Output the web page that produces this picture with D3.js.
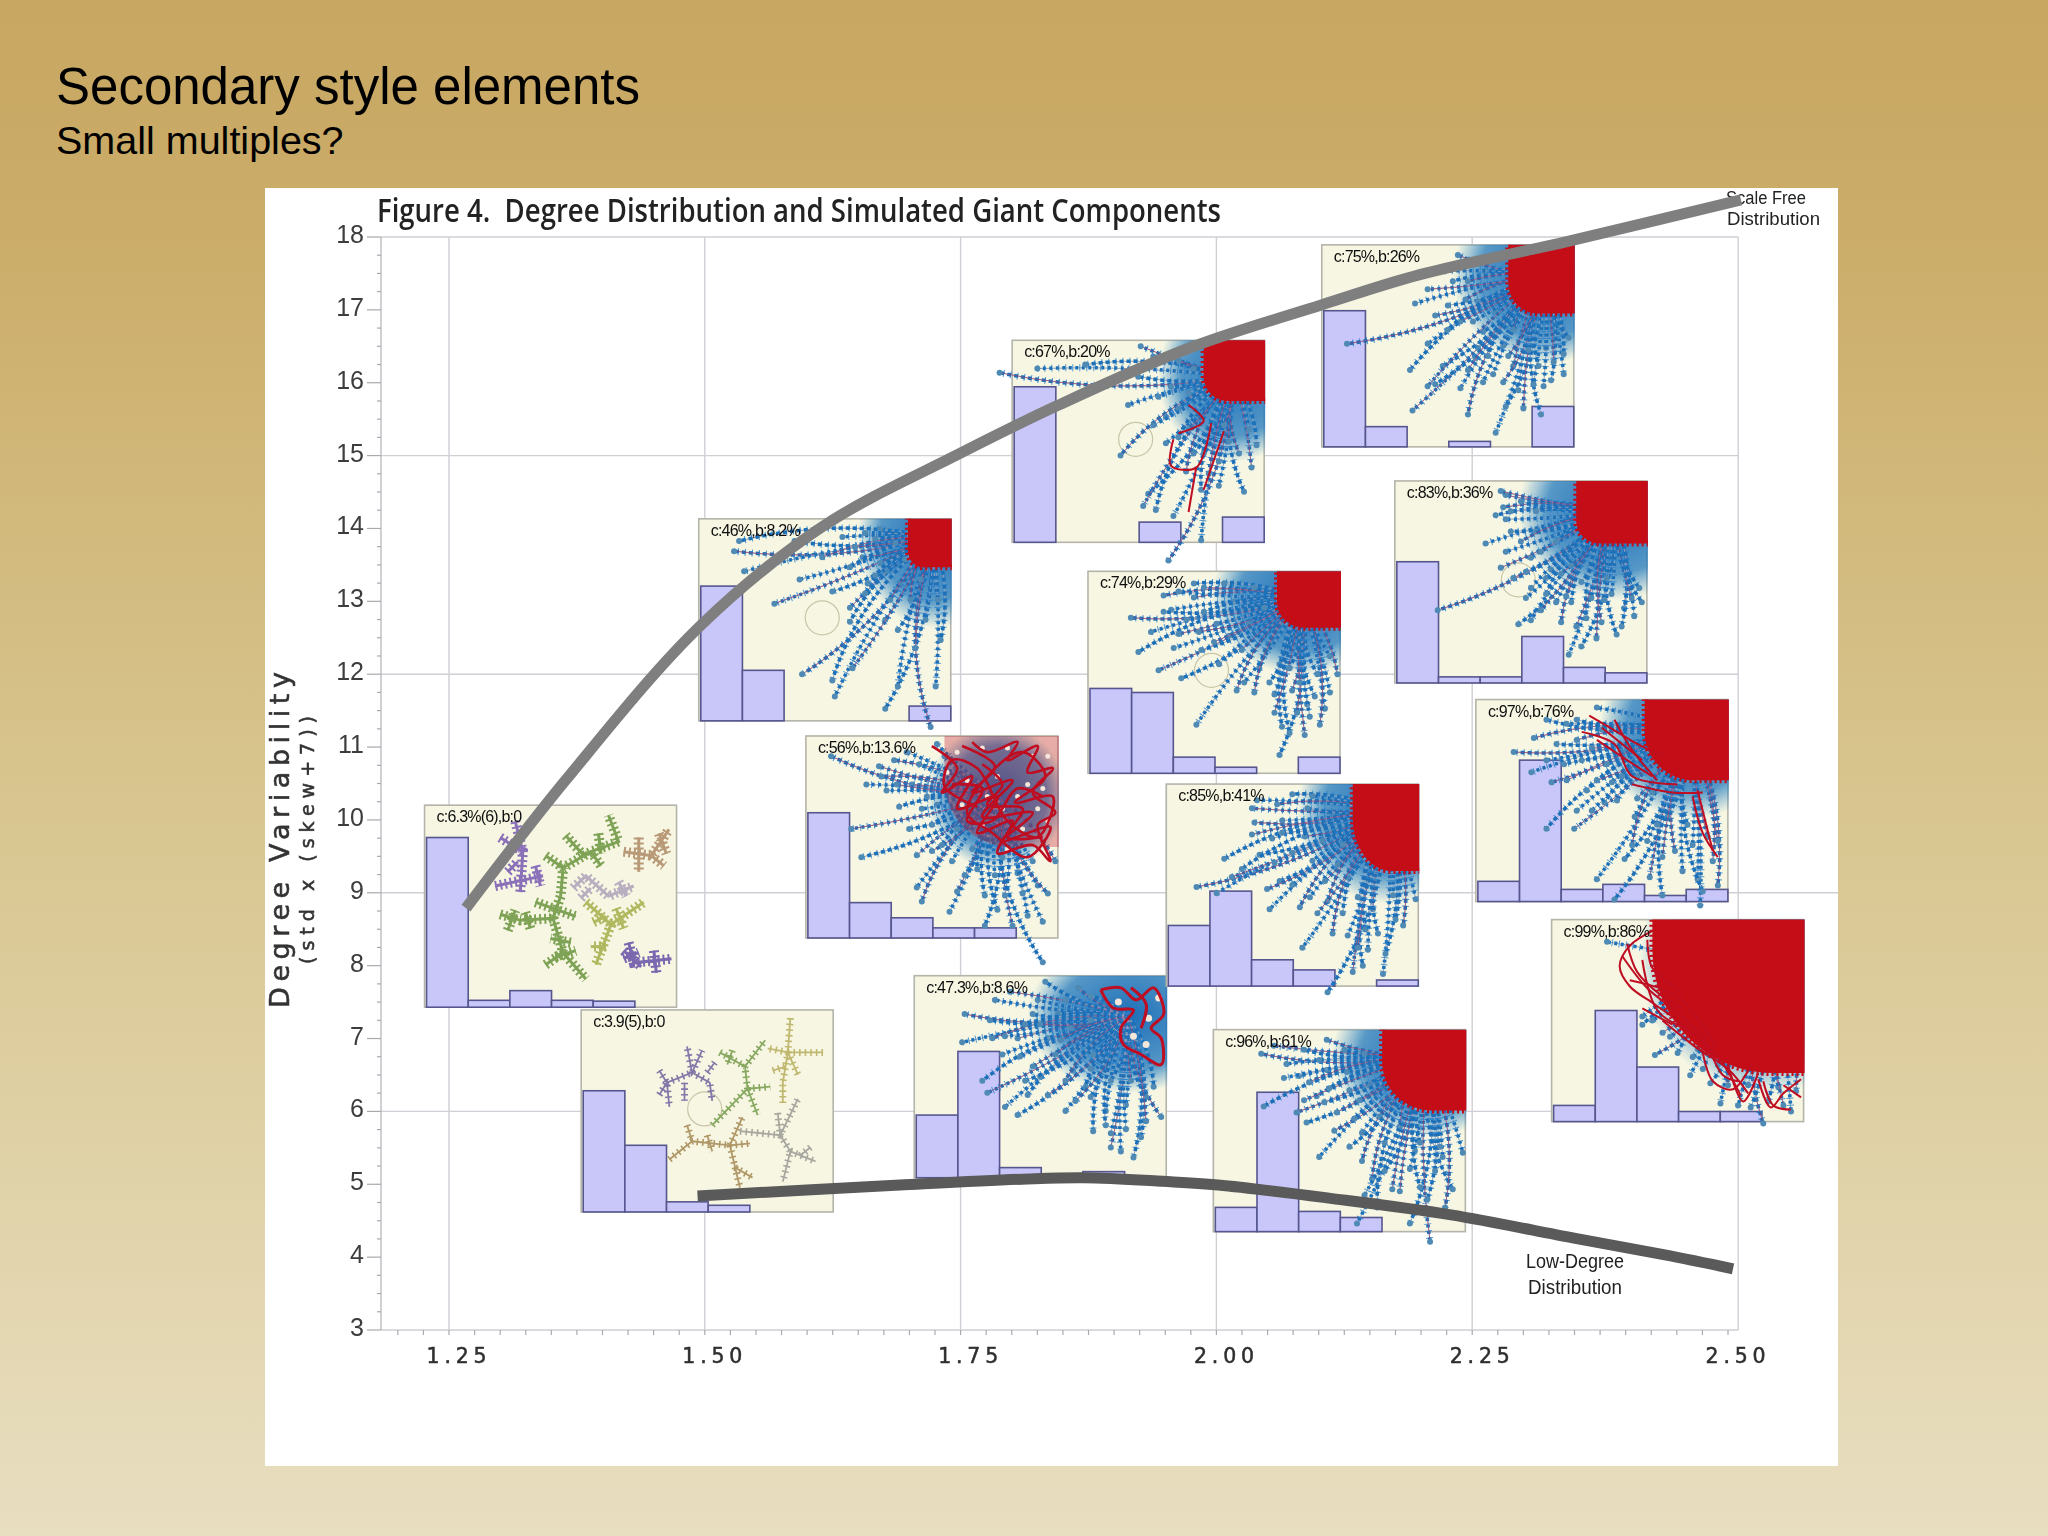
<!DOCTYPE html>
<html>
<head>
<meta charset="utf-8">
<script src="https://cdn.jsdelivr.net/npm/d3@7"></script>
<style>
html, body { margin: 0; padding: 0; background: #fff; }
svg { display: block; }
</style>
</head>
<body>
<div id="chart"></div>
<script>
var W = 2048, H = 1536;

var xTicks = [1.25, 1.5, 1.75, 2, 2.25, 2.5];
var yTicks = [3, 4, 5, 6, 7, 8, 9, 10, 11, 12, 13, 14, 15, 16, 17, 18];
var gridX = [1.25, 1.5, 1.75, 2, 2.25, 2.51];
var gridY = [3, 6, 9, 12, 15, 18];

// small multiples, lower left corner of each in axis units
var insetLabels = ["c:6.3%(6),b:0", "c:3.9(5),b:0", "c:46%,b:8.2%", "c:56%,b:13.6%", "c:47.3%,b:8.6%", "c:67%,b:20%", "c:74%,b:29%", "c:85%,b:41%", "c:96%,b:61%", "c:75%,b:26%", "c:83%,b:36%", "c:97%,b:76%", "c:99%,b:86%"];
var insetX = [1.2261, 1.3792, 1.4941, 1.5988, 1.7047, 1.8004, 1.8745, 1.951, 1.997, 2.103, 2.1744, 2.2536, 2.3276];
var insetY = [7.43, 4.62, 11.36, 8.38, 5.09, 13.81, 10.64, 7.72, 4.35, 15.12, 11.88, 8.88, 5.86];

// degree histogram, six bins, share of the inset height
var insetBars = [
  [.84, .034, .082, .034, .03, 0],
  [.60, .33, .05, .033, 0, 0],
  [.667, .25, 0, 0, 0, .073],
  [.62, .175, .10, .05, .05, 0],
  [.31, .625, .05, 0, .03, 0],
  [.77, 0, 0, .10, 0, .125],
  [.42, .40, .08, .03, 0, .08],
  [.30, .47, .13, .08, 0, .03],
  [.12, .69, .10, .07, 0, 0],
  [.674, .10, 0, .027, 0, .20],
  [.60, .03, .03, .23, .077, .05],
  [.10, .70, .06, .085, .03, .06],
  [.08, .55, .27, .05, .05, 0]
];

// network hub, red core size and blue halo size, as share of the inset
var insetHub = [null, null, [.93,.09], [.76,.30], [.85,.20], [.88,.18], [.85,.13], [.88,.13], [.85,.13], [.88,.15], [.87,.15], [.85,.15], [.85,.20]];
var insetCore = [null, null, [.17,.24], [.45,.55], [.24,.30], [.24,.30], [.25,.28], [.26,.43], [.33,.40], [.26,.34], [.28,.31], [.33,.40], [.60,.76]];
var insetCoreAlpha = [0, 0, 1, .3, 0, 1, 1, 1, 1, 1, 1, 1, 1];
var insetCoreRound = [0, 0, .35, .6, 0, .4, .45, .6, .6, .45, .35, .6, .8];
var insetHalo = [null, null, [.30,.45], [.28,.36], [.40,.38], [.30,.42], [.36,.38], [.36,.46], [.38,.40], [.36,.44], [.38,.44], [.36,.44], [.50,.66]];
var insetRing = [0, 1, 1, 0, 0, 1, 1, 0, 0, 0, 1, 0, 0];

// ends of the blue strands
var insetTips = [
  [],
  [],
  [[.14,.16],[.18,.26],[.16,.11],[.30,.42],[.38,.11],[.57,.09],[.49,.19],[.40,.30],[.53,.36],[.60,.44],[.60,.51],[.74,.50],[.41,.77],[.54,.88],[.53,.80],[.61,.74],[.74,.94],[.79,.83],[.92,1.03],[.94,.83],[.79,.55],[.86,.64],[.66,.37],[.74,.26],[.65,.19],[.67,.32],
   [.70,.10],[.62,.14],[.72,.22],[.80,.32],[.84,.40],[.90,.50],[.96,.60],[.76,.40],[.70,.28],[.82,.20],[.88,.30],[.95,.40],[.60,.24],[.78,.12],[.72,.05],[.66,.07]],
  [[.10,.10],[.24,.24],[.37,.35],[.18,.46],[.22,.60],[.44,.75],[.46,.82],[.57,.87],[.71,.94],[.82,.94],[.94,1.12],[.88,.89],[.50,.57],[.32,.27],[.48,.30],[.60,.77],[.63,.69],[.75,.69],[.35,.12],[.52,.04],[.41,.46],[.44,.59],[.54,.54],[.56,.24],[.99,.62],[.92,.74],[.71,.79],[.29,.15],[.79,.79],
   [.40,.08],[.30,.20],[.45,.14],[.55,.10],[.42,.24],[.52,.34],[.60,.46],[.66,.56],[.58,.62],[.68,.66],[.78,.60],[.84,.68],[.90,.62],[.96,.78],[.86,.78],[.72,.58],[.62,.30],[.50,.44],[.46,.36],[.60,.16],[.94,.92],[.76,.86],[.36,.24]],
  [[.20,.19],[.19,.33],[.27,.52],[.29,.58],[.41,.69],[.36,.65],[.31,.31],[.32,.12],[.52,.03],[.47,.45],[.45,.59],[.60,.67],[.53,.59],[.76,.67],[.71,.77],[.78,.85],[.87,.90],[.82,.87],[.98,.70],[.84,.64],[.90,.80],[.41,.31],[.57,.19],[.49,.12],[.65,.06],[.63,.47],[.68,.55],[.53,.31],[.47,.19],[.35,.39],[.56,.39],[.71,.39],
   [.30,.22],[.38,.08],[.44,.24],[.36,.30],[.50,.24],[.60,.12],[.70,.10],[.62,.26],[.70,.22],[.50,.50],[.60,.52],[.70,.46],[.78,.52],[.86,.52],[.92,.60],[.70,.60],[.64,.62],[.84,.76],[.76,.74],[.92,.72],[.44,.52],[.42,.40],[.58,.32],[.78,.78],[.95,.55]],
  [[-.05,.16],[.10,.14],[.29,.12],[.51,.03],[.50,.18],[.46,.32],[.43,.57],[.61,.51],[.54,.76],[.52,.82],[.57,.84],[.64,.87],[.62,1.09],[.75,.99],[.92,.75],[.95,.63],[.97,.52],[.61,.38],[.69,.65],[.82,.72],[.63,.23],[.86,.50],[.75,.74],
   [.56,.08],[.66,.10],[.58,.28],[.66,.34],[.70,.44],[.76,.56],[.82,.60],[.90,.56],[.94,.44],[.72,.56],[.78,.66],[.66,.48],[.56,.42],[.84,.42],[.70,.26],[.72,.14]],
  [[.17,.23],[.25,.30],[.20,.40],[.28,.49],[.37,.53],[.43,.76],[.59,.59],[.74,.61],[.76,.91],[.86,.81],[.77,.77],[.94,.68],[.99,.51],[.33,.19],[.42,.06],[.36,.31],[.45,.39],[.52,.46],[.42,.13],[.51,.26],[.58,.15],[.61,.39],[.68,.48],[.62,.55],[.81,.59],[.87,.66],[.91,.51],[.83,.70],[.54,.06],[.39,.24],
   [.30,.12],[.36,.10],[.30,.20],[.46,.08],[.46,.20],[.34,.38],[.44,.30],[.56,.32],[.64,.26],[.50,.35],[.66,.08],[.70,.18],[.72,.36],[.76,.46],[.72,.55],[.84,.55],[.90,.62],[.96,.60],[.92,.76],[.88,.72],[.80,.80],[.74,.70],[.80,.48],[.96,.42],[.66,.60]],
  [[.12,.51],[.20,.54],[.23,.37],[.34,.12],[.37,.35],[.41,.62],[.53,.61],[.54,.81],[.64,1.03],[.74,.93],[.78,.90],[.86,.94],[.35,.19],[.42,.27],[.50,.05],[.26,.46],[.45,.48],[.57,.56],[.66,.74],[.99,.57],[.87,.84],[.76,.81],[.70,.64],[.43,.39],[.55,.26],[.66,.15],[.79,.72],[.63,.48],[.91,.67],
   [.36,.08],[.44,.10],[.46,.18],[.56,.12],[.34,.25],[.30,.42],[.50,.34],[.40,.52],[.58,.38],[.62,.28],[.68,.40],[.72,.46],[.50,.50],[.64,.58],[.72,.75],[.76,.56],[.82,.62],[.84,.74],[.90,.55],[.94,.70],[.80,.82],[.70,.30],[.60,.64],[.46,.24],[.58,.06]],
  [[.19,.12],[.29,.17],[.20,.38],[.33,.41],[.37,.46],[.42,.63],[.59,.65],[.57,.96],[.78,.96],[.86,1.05],[.95,.79],[.99,.61],[.45,.05],[.34,.23],[.41,.33],[.49,.41],[.53,.21],[.59,.51],[.63,.74],[.78,.69],[.85,.84],[.71,.79],[.82,.56],[.91,.63],[.58,.35],[.45,.20],[.65,.88],
   [.24,.08],[.36,.10],[.28,.24],[.38,.26],[.42,.15],[.52,.10],[.36,.35],[.46,.29],[.54,.30],[.48,.50],[.56,.44],[.62,.28],[.66,.43],[.54,.58],[.68,.56],[.74,.48],[.60,.82],[.68,.70],[.74,.80],[.80,.60],[.88,.70],[.92,.88],[.90,.58],[.82,.78],[.60,.12],[.44,.36]],
  [[.10,.49],[.37,.29],[.35,.62],[.36,.82],[.45,.69],[.55,.71],[.58,.84],[.69,.93],[.73,.80],[.80,.81],[.87,.84],[.96,.64],[.54,.05],[.42,.49],[.52,.18],[.55,.38],[.62,.51],[.68,.64],[.57,.27],[.84,.69],[.91,.67],[.76,.60],[.69,.33],[.89,.51],[.45,.35],[.61,.56],[.65,.13],
   [.42,.22],[.50,.30],[.48,.13],[.58,.18],[.60,.38],[.64,.43],[.58,.62],[.66,.55],[.72,.50],[.72,.68],[.78,.72],[.86,.60],[.92,.58],[.96,.54],[.82,.52],[.76,.42],[.62,.28],[.48,.60],[.42,.70],[.50,.42],[.88,.70],[.74,.55],[.64,.68],[.98,.46]],
  [[.17,.64],[.36,.31],[.40,.17],[.44,.07],[.49,.71],[.54,.69],[.66,.70],[.69,.86],[.74,.82],[.80,.78],[.88,.76],[.95,.67],[.47,.48],[.54,.53],[.60,.56],[.42,.43],[.46,.25],[.54,.38],[.43,.13],[.44,.19],[.56,.25],[.68,.57],[.76,.68],[.83,.59],[.91,.63],[.62,.44],[.97,.53],
   [.42,.05],[.50,.10],[.46,.15],[.50,.30],[.44,.35],[.52,.45],[.58,.35],[.64,.30],[.60,.48],[.66,.46],[.64,.60],[.70,.60],[.72,.72],[.74,.50],[.78,.58],[.82,.70],[.86,.56],[.90,.72],[.94,.58],[.98,.60],[.52,.58],[.70,.42],[.84,.48],[.56,.15],[.58,.64]],
  [[.15,.26],[.22,.36],[.28,.64],[.39,.64],[.32,.22],[.48,.04],[.23,.19],[.48,.89],[.55,.99],[.69,.88],[.74,.97],[.89,1.02],[.96,.92],[.40,.55],[.44,.45],[.30,.41],[.59,.79],[.63,.58],[.79,.75],[.88,.89],[.76,.58],[.92,.68],[.54,.41],[.35,.32],[.46,.24],[.59,.26],[.51,.51],[.64,.49],
   [.28,.10],[.36,.12],[.40,.20],[.28,.30],[.42,.30],[.36,.40],[.50,.15],[.52,.32],[.48,.40],[.58,.38],[.56,.50],[.64,.38],[.70,.46],[.46,.55],[.62,.72],[.68,.70],[.72,.62],[.74,.78],[.84,.62],[.86,.72],[.94,.80],[.82,.85],[.90,.95],[.96,.70],[.40,.10]],
  [[.41,.67],[.55,.77],[.36,.52],[.47,.58],[.63,.81],[.67,.91],[.84,1.01],[.95,.95],[.79,.93],[.90,.83],[.36,.48],[.22,.11],[.58,.64],
   [.40,.50],[.50,.66],[.44,.56],[.56,.68],[.60,.74],[.70,.82],[.74,.92],[.86,.90],[.92,.92],[.66,.72],[.78,.82],[.97,.85]]
];

// red tangles and loops drawn over the strands
var insetRed = [
  [], [], [],
  [[[.62,.05],[.75,.15],[.66,.28],[.82,.22],[.70,.40],[.90,.38],[.78,.52],[.97,.45],[.88,.60],[.74,.48],[.64,.38],[.72,.20],[.86,.08],[.95,.20],[.83,.33],[.98,.30],[.92,.50],[.80,.42],[.68,.16],[.58,.12],[.55,.25],[.68,.35]],
   [[.50,.05],[.60,.16],[.54,.28],[.66,.20],[.60,.36],[.76,.30],[.68,.48],[.82,.42],[.76,.58],[.90,.54],[.97,.62],[.92,.44],[.99,.38],[.90,.28],[.98,.16],[.88,.18],[.92,.05],[.80,.12],[.84,.03],[.72,.08],[.66,.03]],
   [[.70,.14],[.78,.24],[.72,.34],[.86,.36],[.80,.50],[.94,.50]],
   [[.58,.24],[.70,.26],[.64,.42],[.74,.42],[.84,.26],[.94,.30]]],
  [[[.74,.07],[.79,.16],[.87,.17],[.82,.26],[.83,.34],[.90,.39],[.98,.44],[.98,.31],[.94,.26],[.99,.19],[.95,.06],[.88,.12],[.82,.06],[.74,.07]],
   [[.86,.06],[.92,.14],[.90,.26]]],
  [[[.64,.49],[.63,.62],[.73,.63],[.79,.41]], [[.70,.85],[.73,.63]], [[.84,.45],[.76,.74]], [[.70,.32],[.76,.40],[.66,.46]]],
  [], [], [], [], [],
  [[[.42,.16],[.55,.22],[.62,.38],[.80,.42]], [[.55,.10],[.62,.25],[.72,.40]], [[.88,.45],[.94,.75]], [[.50,.14],[.66,.30]],
   [[.45,.08],[.56,.16],[.64,.22],[.74,.28]], [[.48,.20],[.60,.30],[.70,.38]], [[.62,.42],[.78,.46],[.90,.46]], [[.86,.48],[.90,.66],[.96,.78]]],
  [[[.41,.05],[.31,.13],[.27,.23],[.31,.33],[.41,.42],[.52,.52],[.66,.68],[.75,.87]], [[.36,.20],[.42,.45],[.60,.60],[.68,.77],[.74,.80]], [[.82,.79],[.87,.93],[.92,.86],[.99,.79]], [[.31,.30],[.50,.38],[.65,.62]], [[.36,.44],[.48,.52]],
   [[.30,.12],[.34,.26],[.44,.38],[.52,.44]], [[.28,.18],[.38,.34],[.50,.46],[.62,.60]], [[.44,.50],[.56,.62],[.70,.74],[.78,.86]], [[.60,.66],[.64,.80],[.72,.84],[.80,.70]], [[.84,.80],[.88,.92],[.95,.94]], [[.70,.72],[.76,.90],[.82,.76]], [[.92,.82],[.99,.88]], [[.38,.10],[.40,.24],[.52,.36]]]
];

// pale gaps showing through the two open red tangles
var insetGaps = [
  [], [], [],
  [[.60,.08],[.70,.06],[.80,.06],[.90,.10],[.96,.10],[.64,.22],[.76,.20],[.88,.24],[.94,.26],[.72,.30],[.84,.30],[.62,.34],[.78,.36],[.92,.36],[.70,.44],[.86,.46],[.96,.42],[.80,.56],[.92,.58],[.56,.18]],
  [[.81,.13],[.93,.21],[.92,.34],[.87,.30],[.97,.11]],
  [], [], [], [], [], [], [], []
];

// dendrite branches for the two subcritical insets: colour, then polylines
var insetTrees = [
  [
    ["#7fa356", [[[.30,.54],[.38,.57],[.51,.56],[.54,.45],[.55,.31],[.66,.23],[.77,.18],[.73,.05]], [[.51,.56],[.55,.73],[.64,.86]], [[.48,.79],[.55,.73]], [[.44,.48],[.60,.55]], [[.48,.25],[.55,.31]], [[.56,.15],[.64,.26]], [[.66,.23],[.70,.30]], [[.33,.62],[.36,.52]], [[.42,.61],[.40,.53]], [[.58,.68],[.50,.66]], [[.52,.75],[.60,.72]], [[.69,.14],[.70,.24]]]],
    ["#b89a78", [[[.79,.23],[.90,.25],[.97,.12]], [[.85,.16],[.85,.33]], [[.90,.25],[.95,.30]], [[.93,.14],[.96,.24]]]],
    ["#8a70b8", [[[.30,.16],[.39,.23],[.38,.43]], [[.28,.40],[.47,.35]], [[.36,.08],[.39,.23]], [[.33,.33],[.37,.28]], [[.44,.30],[.46,.40]]]],
    ["#b8aec0", [[[.59,.41],[.64,.35],[.73,.45],[.83,.40]], [[.62,.46],[.66,.41]], [[.77,.38],[.80,.45]]]],
    ["#b0b860", [[[.64,.48],[.74,.59],[.87,.48]], [[.74,.59],[.68,.79]], [[.76,.51],[.79,.61]], [[.67,.58],[.72,.55]], [[.72,.70],[.66,.70]]]],
    ["#7b68b0", [[[.81,.68],[.83,.78],[.98,.76]], [[.79,.76],[.85,.73]], [[.79,.72],[.86,.80]], [[.91,.72],[.92,.83]]]]
  ],
  [
    ["#8478a8", [[[.31,.30],[.34,.36],[.35,.48]], [[.34,.36],[.44,.31],[.48,.20]], [[.44,.31],[.42,.18]], [[.44,.31],[.51,.36],[.52,.45]], [[.50,.31],[.53,.26]], [[.31,.42],[.34,.36]], [[.41,.36],[.41,.45]]]],
    ["#86a860", [[[.52,.57],[.66,.39],[.65,.28],[.73,.15]], [[.55,.21],[.65,.28]], [[.66,.39],[.75,.38]], [[.66,.39],[.70,.52]], [[.60,.20],[.58,.27]]]],
    ["#c0b870", [[[.83,.04],[.82,.21],[.80,.36],[.80,.46]], [[.82,.21],[.96,.21]], [[.82,.21],[.74,.19]], [[.76,.30],[.81,.28]], [[.82,.21],[.86,.32]]]],
    ["#b09868", [[[.35,.74],[.44,.65],[.59,.67],[.64,.53]], [[.42,.57],[.44,.65]], [[.59,.67],[.67,.66]], [[.59,.67],[.63,.88]], [[.61,.78],[.68,.83]], [[.50,.62],[.52,.70]]]],
    ["#a8a8a0", [[[.63,.60],[.79,.62],[.86,.44]], [[.78,.51],[.79,.62]], [[.79,.62],[.83,.70],[.80,.85]], [[.83,.70],[.93,.75]], [[.87,.72],[.91,.68]]]]
  ]
];

// the two envelopes drawn over the figure
var scaleFreeX = [1.2666, 1.3643, 1.4953, 1.6155, 1.7494, 1.8452, 1.9742, 2.1032, 2.198, 2.3436, 2.5127];
var scaleFreeY = [8.79, 10.55, 12.66, 14.03, 15.03, 15.69, 16.48, 17.07, 17.48, 17.94, 18.51];
var lowDegreeX = [1.4929, 1.6908, 1.81, 1.8706, 1.9478, 2.0016, 2.11, 2.2293, 2.3495, 2.4384, 2.5049];
var lowDegreeY = [4.84, 4.99, 5.07, 5.09, 5.04, 4.99, 4.81, 4.58, 4.26, 4.03, 3.84];

var x = d3.scaleLinear().domain([1.25, 2.5]).range([449, 1728]);
var y = d3.scaleLinear().domain([3, 18]).range([1330, 237]);
var plotLeft = 381;

var svg = d3.select("#chart").append("svg").attr("width", W).attr("height", H).attr("viewBox", "0 0 " + W + " " + H);
var defs = svg.append("defs");

var bg = defs.append("linearGradient").attr("id", "slideBg").attr("x1", 0).attr("y1", 0).attr("x2", 0).attr("y2", 1);
bg.append("stop").attr("offset", 0).attr("stop-color", "#c7a762");
bg.append("stop").attr("offset", .14).attr("stop-color", "#cbac68");
bg.append("stop").attr("offset", .55).attr("stop-color", "#d9c792");
bg.append("stop").attr("offset", 1).attr("stop-color", "#e8dec0");

var halo = defs.append("radialGradient").attr("id", "halo");
halo.append("stop").attr("offset", 0).attr("stop-color", "#1c6fb8").attr("stop-opacity", 1);
halo.append("stop").attr("offset", .7).attr("stop-color", "#1f78bd").attr("stop-opacity", .75);
halo.append("stop").attr("offset", 1).attr("stop-color", "#2a86c6").attr("stop-opacity", 0);

defs.append("filter").attr("id", "soft").attr("x", "-5%").attr("y", "-5%").attr("width", "110%").attr("height", "110%")
  .append("feGaussianBlur").attr("stdDeviation", .5);
defs.append("filter").attr("id", "softText").attr("x", "-5%").attr("y", "-20%").attr("width", "110%").attr("height", "140%")
  .append("feGaussianBlur").attr("stdDeviation", .45);

svg.append("rect").attr("width", W).attr("height", H).attr("fill", "url(#slideBg)");

var sans = "'Liberation Sans', Arial, sans-serif";
svg.append("text").attr("x", 56).attr("y", 104).attr("font-family", sans).attr("font-size", 51).attr("fill", "#000").text("Secondary style elements");
svg.append("text").attr("x", 56).attr("y", 154).attr("font-family", sans).attr("font-size", 39.5).attr("fill", "#000").text("Small multiples?");

svg.append("rect").attr("x", 265).attr("y", 188).attr("width", 1573).attr("height", 1278).attr("fill", "#fff");

var fig = svg.append("g");

// grid and axes
var gridG = fig.append("g").attr("fill", "none").attr("stroke", "#cfcfd5").attr("stroke-width", 1.4);
gridG.selectAll("line.v").data(gridX).enter().append("line").attr("class", "v")
  .attr("x1", function(d) { return x(d); }).attr("x2", function(d) { return x(d); })
  .attr("y1", y(18)).attr("y2", y(3));
gridG.selectAll("line.h").data(gridY).enter().append("line").attr("class", "h")
  .attr("x1", plotLeft).attr("x2", function(d) { return d === 9 ? 1838 : x(2.51); })
  .attr("y1", function(d) { return y(d); }).attr("y2", function(d) { return y(d); });
gridG.append("line").attr("x1", plotLeft).attr("x2", plotLeft).attr("y1", y(18)).attr("y2", y(3)).attr("stroke", "#bdbdc2");

var yMinor = d3.range(3, 18.01, .25);
var xMinor = d3.range(1.2, 2.5001, .025);
var tickG = fig.append("g").attr("stroke", "#a9a9ae").attr("stroke-width", 1.2);
tickG.selectAll("line.ym").data(yMinor).enter().append("line").attr("class", "ym")
  .attr("x1", function(d) { return Number.isInteger(d) ? plotLeft - 14 : plotLeft - 4; }).attr("x2", plotLeft)
  .attr("y1", function(d) { return y(d); }).attr("y2", function(d) { return y(d); });
tickG.selectAll("line.xm").data(xMinor).enter().append("line").attr("class", "xm")
  .attr("x1", function(d) { return x(d); }).attr("x2", function(d) { return x(d); })
  .attr("y1", y(3)).attr("y2", y(3) + 5);

var yLab = fig.append("g").attr("filter", "url(#softText)");
yLab.selectAll("text").data(yTicks).enter().append("text")
  .attr("x", 364).attr("y", function(d) { return y(d) + 6; })
  .attr("text-anchor", "end").attr("font-family", sans).attr("font-size", 25).attr("fill", "#3c3c3c")
  .text(function(d) { return d; });
var xLab = fig.append("g").attr("filter", "url(#softText)");
xLab.selectAll("text").data(xTicks).enter().append("text")
  .attr("x", function(d) { return x(d) + 10; }).attr("y", 1363)
  .attr("text-anchor", "middle").attr("font-family", "'DejaVu Sans', sans-serif").attr("font-size", 20.5).attr("letter-spacing", 4.8).attr("fill", "#2e2e2e")
  .attr("stroke", "#2e2e2e").attr("stroke-width", .5)
  .text(function(d) { return d.toFixed(2); });

function sideText(tx, ty, str, size, len) {
  fig.append("text").attr("transform", "translate(" + tx + "," + ty + ") rotate(-90)")
    .attr("text-anchor", "middle").attr("font-family", "'DejaVu Sans', sans-serif").attr("font-size", size)
    .attr("fill", "#333").attr("stroke", "#333").attr("stroke-width", .55).attr("textLength", len).attr("filter", "url(#softText)").text(str);
}
sideText(289, 840, "Degree Variability", 27, 336);
sideText(314, 840, "(std x (skew+7))", 19, 248);

function narrowText(tx, ty, str, size, len, anchor, color, weight, family) {
  fig.append("text").attr("x", tx).attr("y", ty).attr("text-anchor", anchor).attr("font-family", family || sans)
    .attr("font-size", size).attr("font-weight", weight || 400).attr("fill", color).attr("textLength", len).attr("lengthAdjust", "spacingAndGlyphs")
    .attr("filter", "url(#softText)").text(str);
}
narrowText(377, 222, "Figure 4.\u00a0 Degree Distribution and Simulated Giant Components", 32, 844, "start", "#222", 600, "'Open Sans', sans-serif");
narrowText(1806, 204, "Scale Free", 18, 80, "end", "#222");
narrowText(1820, 225, "Distribution", 18, 93, "end", "#222");
narrowText(1624, 1268, "Low-Degree", 21, 98, "end", "#222");
narrowText(1622, 1294, "Distribution", 21, 94, "end", "#222");

// small multiples
var insetW = 252, insetH = 202;
var binX = d3.scaleBand().domain(d3.range(6)).range([2, insetW]);
var shareY = d3.scaleLinear().domain([0, 1]).range([insetH, 0]);
var u = d3.scaleLinear().domain([0, 1]).range([0, insetW]);
var v = d3.scaleLinear().domain([0, 1]).range([0, insetH]);
var uvLine = d3.line().x(function(d) { return u(d[0]); }).y(function(d) { return v(d[1]); });
var redCurve = d3.line().x(function(d) { return u(d[0]); }).y(function(d) { return v(d[1]); }).curve(d3.curveCatmullRom);
var bends = [-.12, .05, .14, -.04];

function strandPath(hub, tip, i) {
  var p = d3.path();
  var dx = tip[0] - hub[0], dy = tip[1] - hub[1];
  var bend = bends[i % bends.length];
  p.moveTo(u(hub[0]), v(hub[1]));
  p.quadraticCurveTo(u(hub[0] + dx * .5 - dy * bend), v(hub[1] + dy * .5 + dx * bend), u(tip[0]), v(tip[1]));
  return p.toString();
}

defs.append("clipPath").attr("id", "insetClip").append("rect").attr("x", 0).attr("y", 0).attr("width", insetW + 1).attr("height", insetH);

insetLabels.forEach(function(label, k) {
  var g = fig.append("g").attr("transform", "translate(" + x(insetX[k]) + "," + (y(insetY[k]) - insetH) + ")");
  g.append("rect").attr("width", insetW).attr("height", insetH).attr("fill", "#f7f6e2").attr("stroke", "#b4b4aa").attr("stroke-width", 1.6);

  g.selectAll("rect.bar").data(insetBars[k].map(function(d, i) { return { i: i, d: d }; }).filter(function(b) { return b.d > 0; }))
    .enter().append("rect").attr("class", "bar")
    .attr("x", function(b) { return binX(b.i); }).attr("width", binX.bandwidth())
    .attr("y", function(b) { return shareY(b.d); }).attr("height", function(b) { return insetH - shareY(b.d); })
    .attr("fill", "#c9c7f9").attr("stroke", "#56568f").attr("stroke-width", 1.6);

  var net = g.append("g").attr("filter", "url(#soft)");
  if (insetRing[k]) {
    net.append("circle").attr("cx", u(.49)).attr("cy", v(.49)).attr("r", 17).attr("fill", "none").attr("stroke", "#c9c5a8").attr("stroke-width", 1.2);
  }

  if (k < 2) {
    insetTrees[k].forEach(function(tree) {
      tree[1].forEach(function(branch) {
        net.append("path").attr("d", uvLine(branch)).attr("fill", "none").attr("stroke", tree[0]).attr("stroke-width", k ? 7 : 10).attr("stroke-dasharray", k ? "1.6 4" : "2 3");
        net.append("path").attr("d", uvLine(branch)).attr("fill", "none").attr("stroke", tree[0]).attr("stroke-width", k ? 1.8 : 3);
      });
    });
  }

  var hub = insetHub[k];
  if (hub) {
    var haloSize = insetHalo[k], core = insetCore[k];
    net.append("g").attr("clip-path", "url(#insetClip)").append("ellipse").attr("cx", u(hub[0])).attr("cy", v(hub[1]))
      .attr("rx", u(haloSize[0])).attr("ry", v(haloSize[1])).attr("fill", "url(#halo)");

    insetTips[k].forEach(function(tip, i) {
      var d = strandPath(hub, tip, i);
      net.append("path").attr("d", d).attr("fill", "none").attr("stroke", "#8aa0c0").attr("stroke-width", 1);
      net.append("path").attr("d", d).attr("fill", "none").attr("stroke", "#2f86cc").attr("stroke-opacity", .85).attr("stroke-width", 7).attr("stroke-dasharray", "1 6");
      net.append("path").attr("d", d).attr("fill", "none").attr("stroke", "#1f70b8").attr("stroke-width", 3.6).attr("stroke-dasharray", i % 2 ? "3 3.5" : "4 3");
      if (i % 3 === 0) net.append("path").attr("d", d).attr("fill", "none").attr("stroke", "#a83c6a").attr("stroke-opacity", .6).attr("stroke-width", 1);
      net.append("circle").attr("cx", u(tip[0])).attr("cy", v(tip[1])).attr("r", 3).attr("fill", "#4f8ab4");
    });

    if (insetCoreAlpha[k] > 0) {
      var cw = u(core[0]), ch = v(core[1]), round = insetCoreRound[k];
      var solid = insetCoreAlpha[k] === 1;
      net.append("g").attr("clip-path", "url(#insetClip)").append("rect")
        .attr("x", insetW - cw).attr("y", -ch).attr("width", cw * 2).attr("height", ch * 2)
        .attr("rx", cw * round).attr("ry", ch * round).attr("fill", "#c40a18").attr("fill-opacity", insetCoreAlpha[k])
        .attr("stroke", "#c40a18").attr("stroke-width", solid ? 6 : 0).attr("stroke-dasharray", "2 3");
    }
    insetGaps[k].forEach(function(gap) {
      net.append("circle").attr("cx", u(gap[0])).attr("cy", v(gap[1])).attr("r", k === 4 ? 3.5 : 2.5).attr("fill", "#f4e6d8");
    });
    insetRed[k].forEach(function(loop) {
      net.append("path").attr("d", redCurve(loop)).attr("fill", "none").attr("stroke", "#bf0a20").attr("stroke-width", k === 4 ? 3 : k === 3 ? 2.6 : 2).attr("stroke-linejoin", "round");
    });
  }

  g.append("text").attr("x", 12).attr("y", 17).attr("font-family", sans).attr("font-size", 16).attr("letter-spacing", -.8)
    .attr("fill", "#111").attr("filter", "url(#softText)").text(label);
});

// envelopes sit on top of everything
function envelope(xs, ys, color) {
  var pts = xs.map(function(d, i) { return [d, ys[i]]; });
  fig.append("path").attr("fill", "none").attr("stroke", color).attr("stroke-width", 11)
    .attr("d", d3.line().x(function(d) { return x(d[0]); }).y(function(d) { return y(d[1]); }).curve(d3.curveCatmullRom)(pts));
}
envelope(scaleFreeX, scaleFreeY, "#7f7f7f");
envelope(lowDegreeX, lowDegreeY, "#5a5a5a");
</script>
</body>
</html>
